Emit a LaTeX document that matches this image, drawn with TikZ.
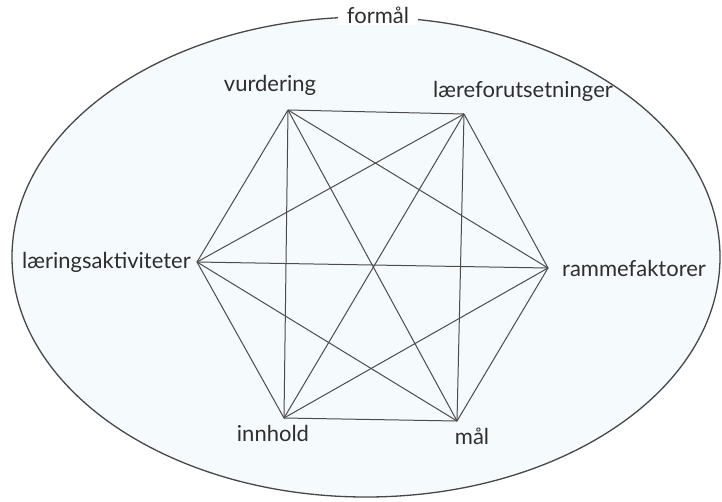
\documentclass[tikz,border=0pt]{standalone}
\usepackage{fontspec}
\setmainfont{Lato}
\usetikzlibrary{positioning}
\definecolor{paper}{RGB}{245,250,252}

\begin{document}
\begin{tikzpicture}[x=1pt, y=-1pt,
        lbl/.style={font=\fontsize{22}{25}\selectfont, text=black!82, inner sep=2pt},
        edge/.style={draw=black!70, line width=1pt}
    ]
        \useasboundingbox (0,0) rectangle (722,501);
        % outer ellipse
        \draw[fill=paper, draw=black!72, line width=1.3pt] (366,257) ellipse [x radius=354, y radius=240];
        \node[lbl, fill=white, inner xsep=9pt] (formal) at (378,15) {formål};

        % corners of the hexagon
        \coordinate (vur) at (288,110);
        \coordinate (lfo) at (464,114);
        \coordinate (rfa) at (548,268);
        \coordinate (mal) at (457,421);
        \coordinate (inn) at (284,418);
        \coordinate (lak) at (197,262);

        % every corner to every corner
        \foreach \a/\b in {vur/lfo, vur/rfa, vur/mal, vur/inn, vur/lak,
                           lfo/rfa, lfo/mal, lfo/inn, lfo/lak,
                           rfa/mal, rfa/inn, rfa/lak,
                           mal/inn, mal/lak,
                           inn/lak} {
            \draw[edge] (\a) -- (\b);
        }

        \node[lbl, above=12pt of vur, xshift=-18pt] (tvur) {vurdering};
        \node[lbl, above right=10pt and -33pt of lfo] (tlfo) {læreforutsetninger};
        \node[lbl, right=12pt of rfa] (trfa) {rammefaktorer};
        \node[lbl, below=5pt of mal, xshift=15pt] (tmal) {mål};
        \node[lbl, below=5pt of inn, xshift=-11pt] (tinn) {innhold};
        \node[lbl, left=4pt of lak] (tlak) {læringsaktiviteter};
    \end{tikzpicture}
\end{document}
